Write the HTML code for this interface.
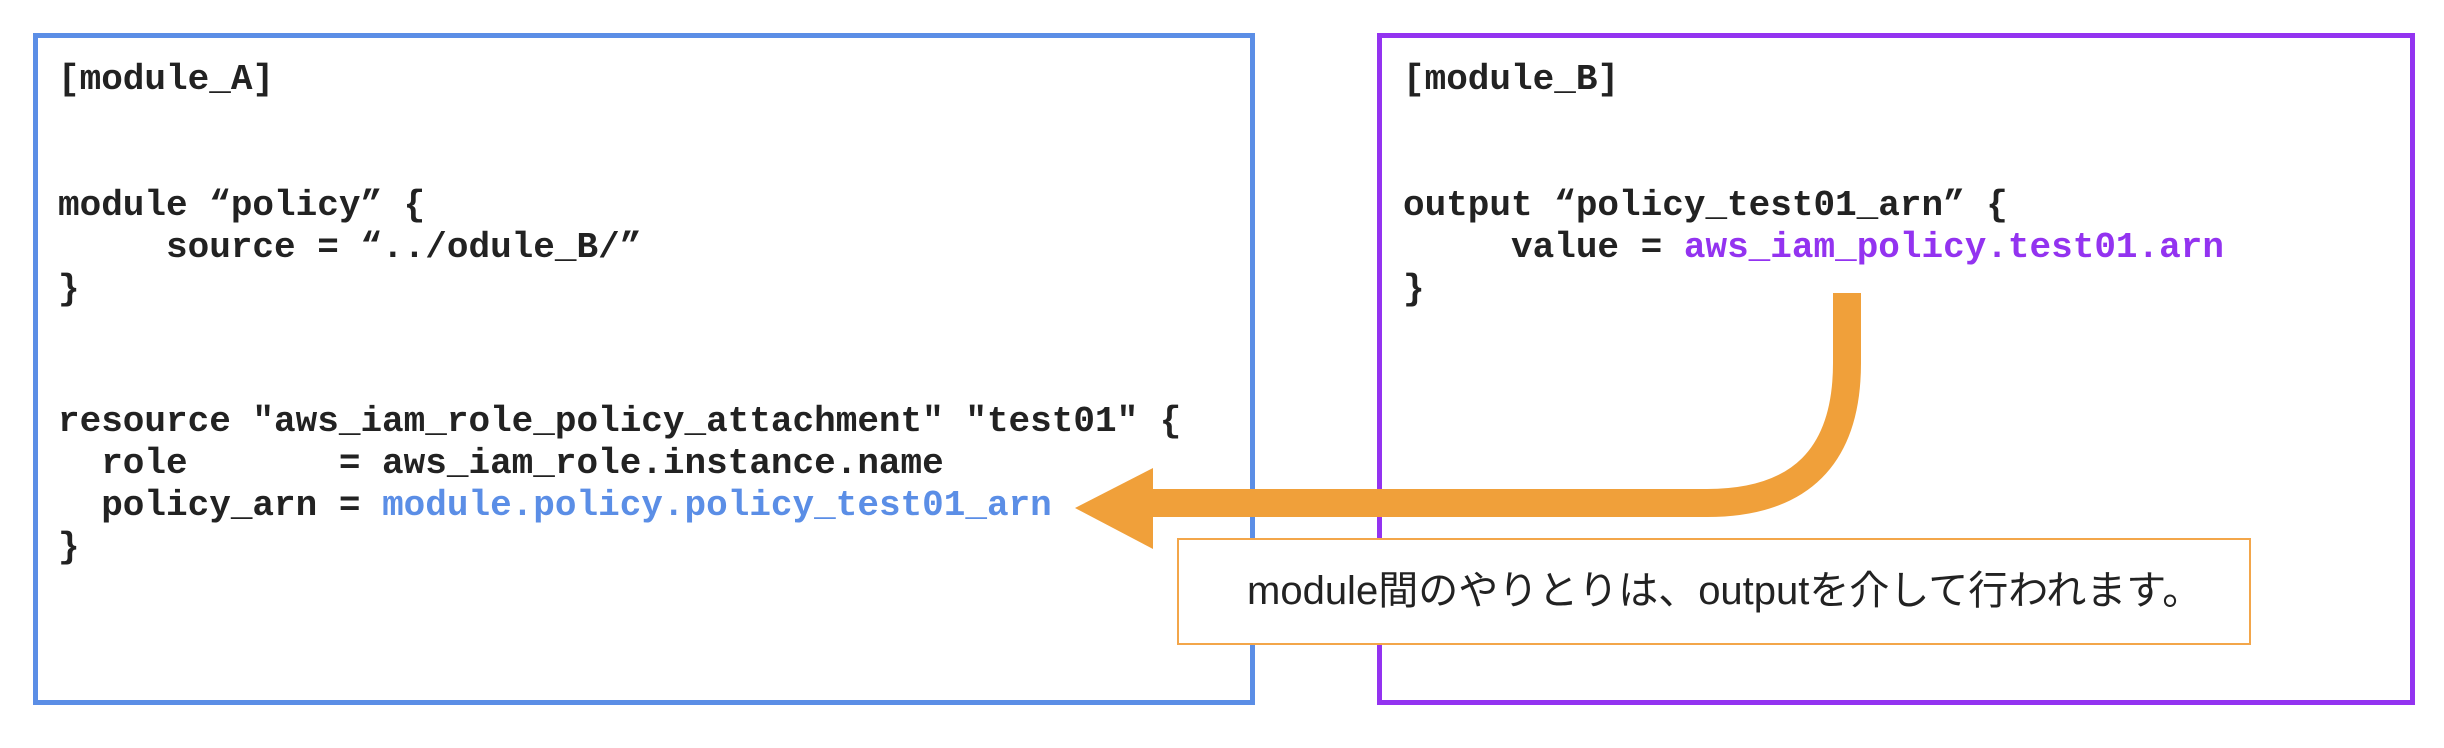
<!DOCTYPE html>
<html><head><meta charset="utf-8"><style>
html,body{margin:0;padding:0;background:#fff;width:2444px;height:748px;overflow:hidden;position:relative}
.box{position:absolute;box-sizing:border-box;border:5px solid;background:#fff}
.code{position:absolute;font-family:"Liberation Mono",monospace;font-weight:bold;font-size:36px;line-height:42px;white-space:pre;color:#222;letter-spacing:0px}
.cap{position:absolute;left:1177px;top:538px;width:1074px;height:107px;box-sizing:border-box;border:2px solid #f3a64a;background:#fff;font-family:"Liberation Sans","Noto Sans CJK JP",sans-serif;font-size:40px;line-height:103px;padding-left:68px;color:#222;white-space:nowrap}
</style></head><body>
<div class="box" style="left:33px;top:33px;width:1222px;height:672px;border-color:#5b8ee6"></div>
<div class="box" style="left:1377px;top:33px;width:1038px;height:672px;border-color:#9333f0"></div>
<div class="code" style="left:58px;top:59px">[module_A]</div>
<div class="code" style="left:58px;top:185px">module “policy” {
     source = “../odule_B/”
}</div>
<div class="code" style="left:58px;top:401px">resource "aws_iam_role_policy_attachment" "test01" {
  role       = aws_iam_role.instance.name
  policy_arn = <span style="color:#5b8ee6">module.policy.policy_test01_arn</span>
}</div>
<div class="code" style="left:1403px;top:59px">[module_B]</div>
<div class="code" style="left:1403px;top:185px">output “policy_test01_arn” {
     value = <span style="color:#9333f0">aws_iam_policy.test01.arn</span>
}</div>
<svg style="position:absolute;left:0;top:0" width="2444" height="748">
<path d="M1847 293 L1847 363 Q1847 503 1707 503 L1140 503" fill="none" stroke="#f0a03a" stroke-width="28"/>
<polygon points="1075,508 1153,468 1153,549" fill="#f0a03a"/>
</svg>
<div class="cap">module間のやりとりは、outputを介して行われます。</div>
</body></html>
